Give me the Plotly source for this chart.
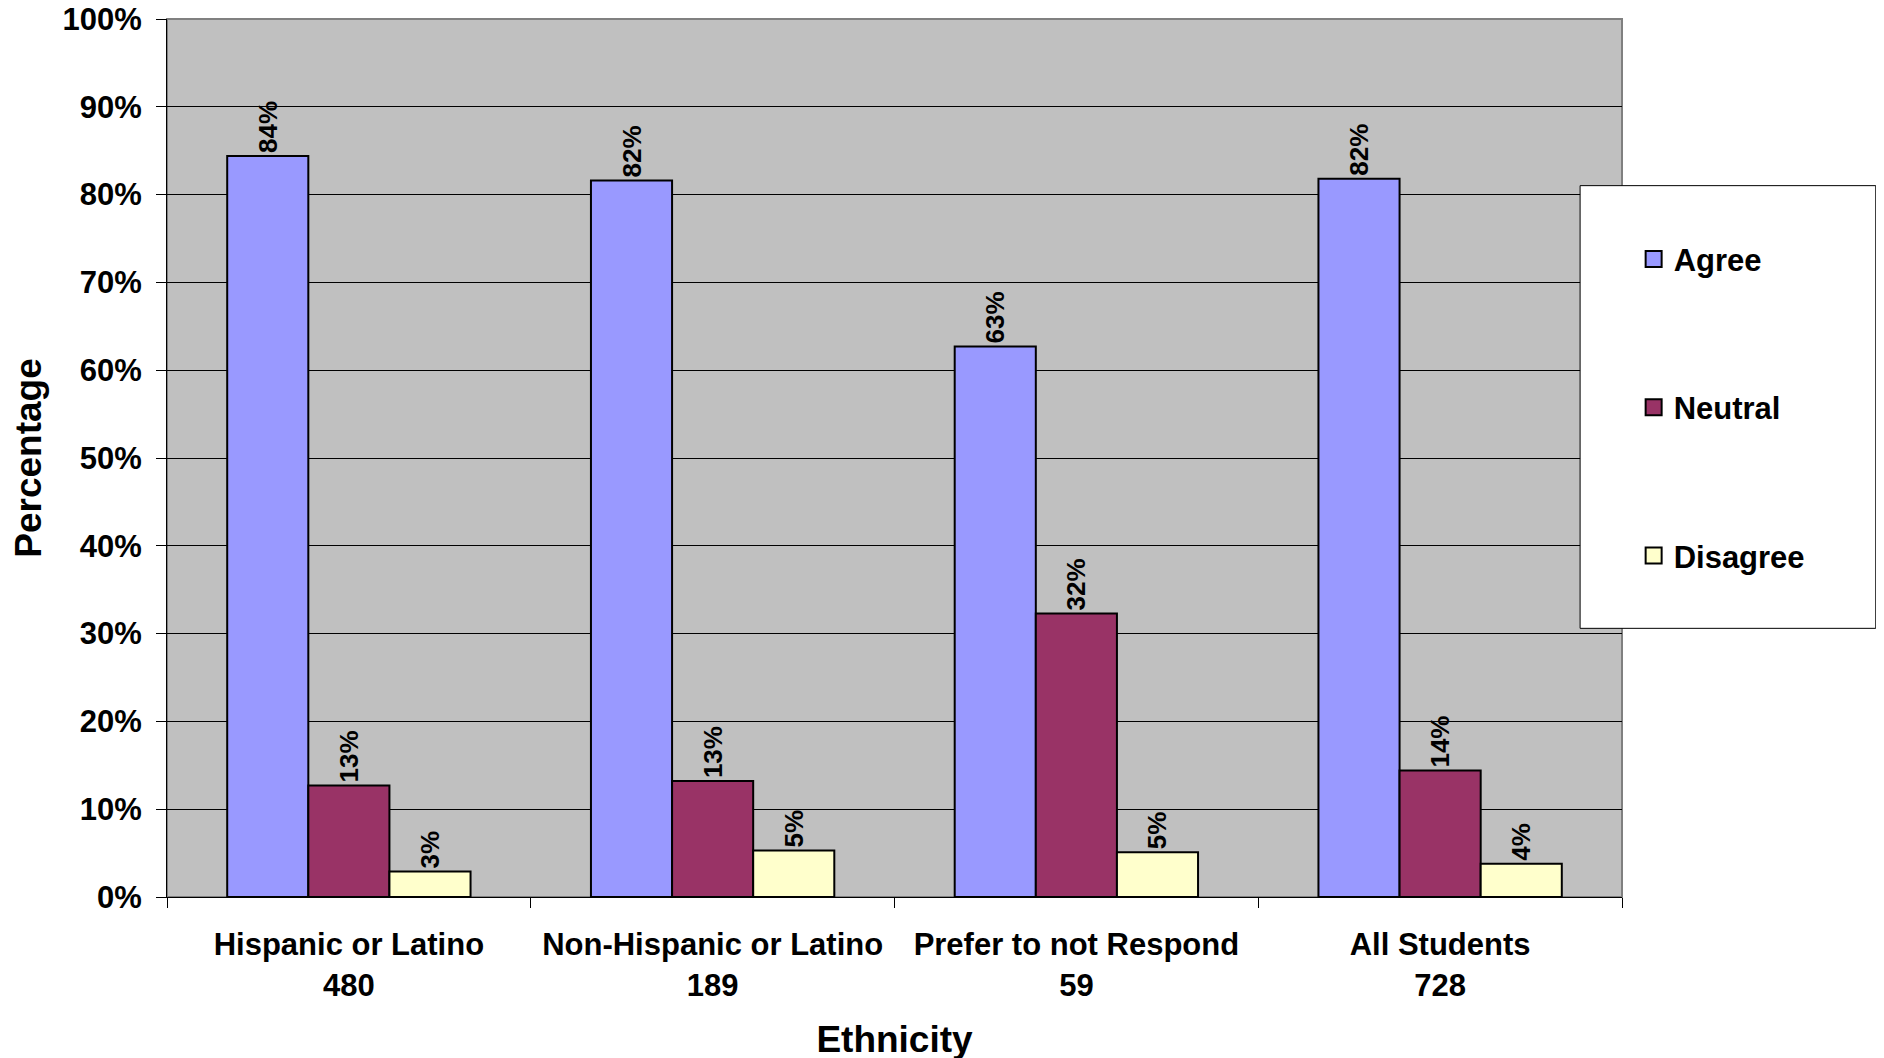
import plotly.graph_objects as go

categories = ['Hispanic or Latino<br>480', 'Non-Hispanic or Latino<br>189',
              'Prefer to not Respond<br>59', 'All Students<br>728']
agree = [84.4, 81.6, 62.7, 81.8]
neutral = [12.7, 13.2, 32.3, 14.4]
disagree = [2.9, 5.3, 5.1, 3.8]

series = [('Agree', agree, '#9999FF'),
          ('Neutral', neutral, '#993366'),
          ('Disagree', disagree, '#FFFFCC')]

font_family = 'Liberation Sans, Arial, sans-serif'

fig = go.Figure()

for name, values, color in series:
    fig.add_trace(go.Bar(x=categories, y=values, name=name,
                         marker=dict(color=color, line=dict(color='black', width=2)),
                         texttemplate='%{y:.0f}%', textposition='outside',
                         textangle=-90, constraintext='none', cliponaxis=False,
                         textfont=dict(size=26, color='black', family=font_family, weight='bold'),
                         showlegend=False, hoverinfo='skip'))

# legend entries with larger square swatches
for i, (name, values, color) in enumerate(series):
    fig.add_trace(go.Scatter(x=[None], y=[None], mode='markers', name=name,
                             legendgroup=str(i),
                             marker=dict(symbol='square', size=16, color=color,
                                         line=dict(color='black', width=2))))

# plot area border and legend box
fig.add_shape(type='rect', xref='x domain', yref='y domain', x0=0, x1=1, y0=0, y1=1,
              line=dict(color='#808080', width=2), layer='below')
fig.add_shape(type='rect', xref='paper', yref='paper', x0=0.9712, x1=1.1744, y0=0.306, y1=0.8102,
              line=dict(color='black', width=1), fillcolor='white', layer='above')

# page body adds an 8px offset, so margins are trimmed by that much on top/left
fig.update_layout(
    width=1884, height=1058,
    margin=dict(l=159, r=270, t=11, b=169, autoexpand=False),
    paper_bgcolor='white', plot_bgcolor='#C0C0C0',
    font=dict(family=font_family, size=31, color='black', weight='bold'),
    bargap=0.331, bargroupgap=0,
    legend=dict(x=1.008, y=0.757, xanchor='left', yanchor='top',
                bgcolor='rgba(0,0,0,0)', borderwidth=0,
                tracegroupgap=105, traceorder='grouped',
                font=dict(size=31, family=font_family, weight='bold')),
)

fig.update_xaxes(title=dict(text='Ethnicity', standoff=24), automargin=False,
                 showline=True, linecolor='black', linewidth=1,
                 ticks='outside', ticklen=10, tickcolor='black', tickson='boundaries',
                 ticklabelstandoff=20, showgrid=False)

fig.update_yaxes(title=dict(text='Percentage', standoff=12), automargin=False,
                 range=[0, 100], dtick=10, ticksuffix='%',
                 showline=True, linecolor='black', linewidth=1,
                 ticks='outside', ticklen=10, tickcolor='black',
                 ticklabelstandoff=8, ticklabeloverflow='allow',
                 showgrid=True, gridcolor='black', gridwidth=1, zeroline=False)

fig.write_html('out.html')
